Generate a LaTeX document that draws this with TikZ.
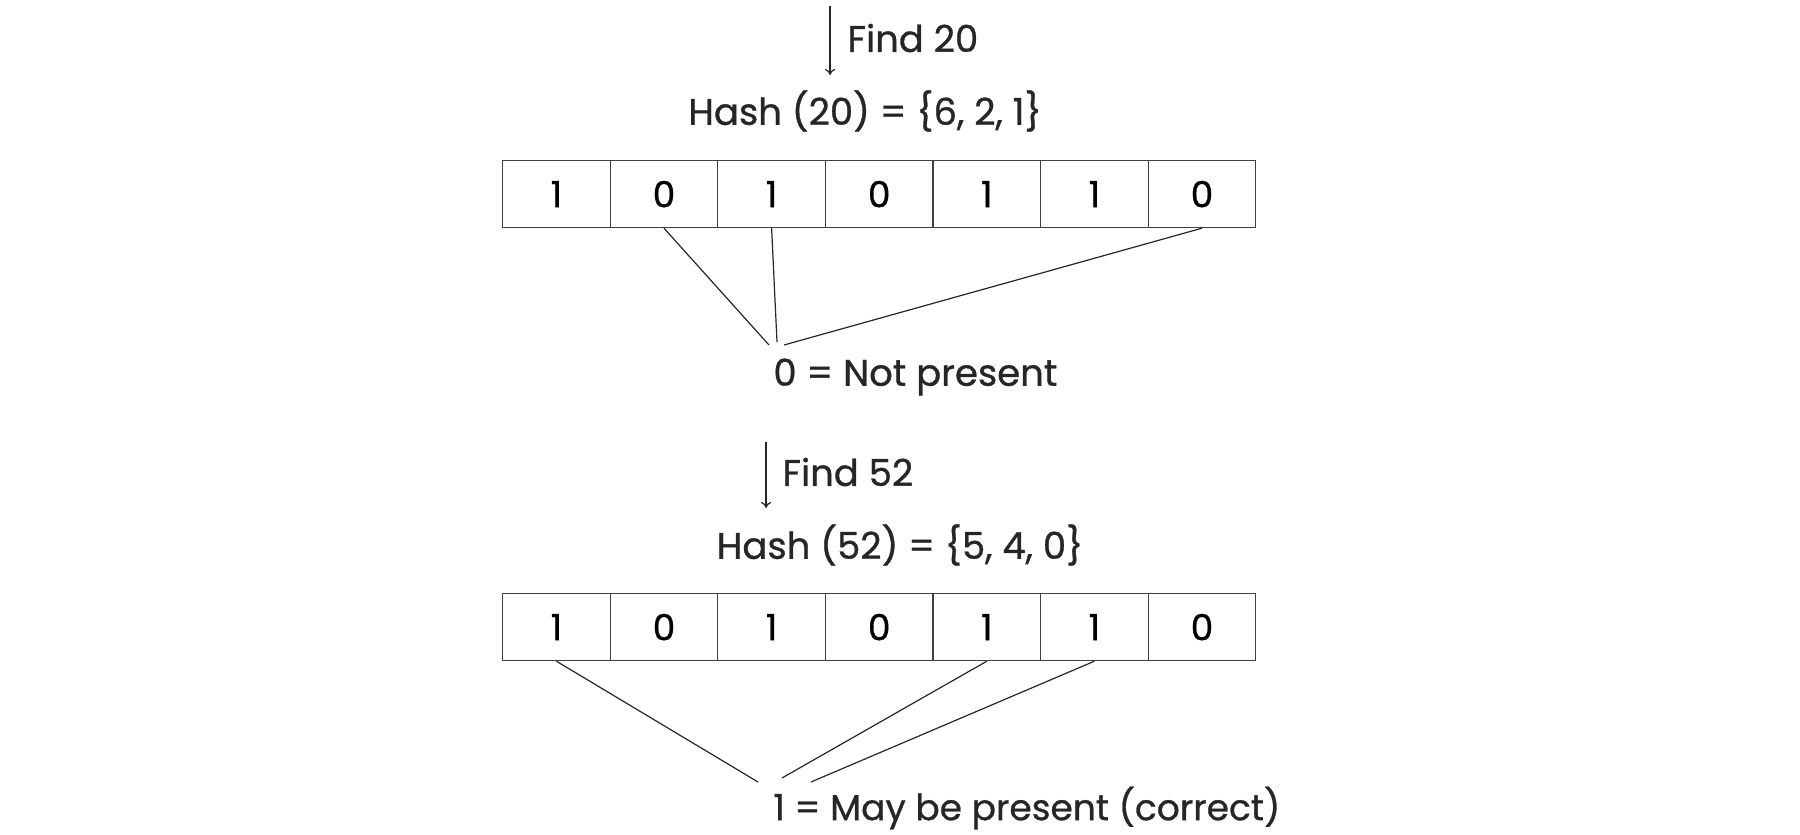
\documentclass[tikz,border=0pt]{standalone}
\usepackage{fontspec}
\setmainfont{Poppins}[FakeBold=0.8]
\usetikzlibrary{arrows.meta}
\begin{document}
\begin{tikzpicture}[x=0.5pt,y=-0.5pt,
  cell/.style={draw=black!75,line width=0.6pt,minimum width=53.8pt,minimum height=33.5pt,inner sep=0pt,anchor=north west,font=\fontsize{18}{20}\selectfont},
  lbl/.style={inner sep=0pt,font=\fontsize{18.5}{22}\selectfont,text=black!85},
  conn/.style={draw=black!85,line width=0.6pt},
  arr/.style={draw=black!85,line width=0.6pt,-{To[length=3pt,width=5pt]}}]
\useasboundingbox (0,0) rectangle (1800,835);
% top
\coordinate (a1s) at (830,6);
\coordinate (a1e) at (830,75);
\draw[arr] (a1s) -- (a1e);
\node[lbl,anchor=west] (f20) at (847,38) {Find 20};
\node[lbl] (h20) at (865,111) {Hash (20) = \{6, 2, 1\}};
\foreach \v [count=\i from 0] in {1,0,1,0,1,1,0}{
  \node[cell] (t\i) at (502+107.6*\i,160) {\v};
}
\coordinate (tp1) at (769,345);
\coordinate (tp2) at (777,342);
\coordinate (tp3) at (784,345);
\draw[conn] (t1.south) -- (tp1);
\draw[conn] (t2.south) -- (tp2);
\draw[conn] (t6.south) -- (tp3);
\node[lbl,anchor=west] (np) at (773,377) {0 = Not present};
% bottom
\coordinate (a2s) at (766,442);
\coordinate (a2e) at (766,508);
\draw[arr] (a2s) -- (a2e);
\node[lbl,anchor=west] (f52) at (782,472) {Find 52};
\node[lbl] (h52) at (900,545) {Hash (52) = \{5, 4, 0\}};
\foreach \v [count=\i from 0] in {1,0,1,0,1,1,0}{
  \node[cell] (b\i) at (502+107.6*\i,593) {\v};
}
\coordinate (bp1) at (758,782);
\coordinate (bp2) at (782,778);
\coordinate (bp3) at (811,782);
\draw[conn] (b0.south) -- (bp1);
\draw[conn] (b4.south) -- (bp2);
\draw[conn] (b5.south) -- (bp3);
\node[lbl,anchor=west,font=\fontsize{18}{22}\selectfont] (mp) at (773,808) {1 = May be present (correct)};
\end{tikzpicture}
\end{document}
